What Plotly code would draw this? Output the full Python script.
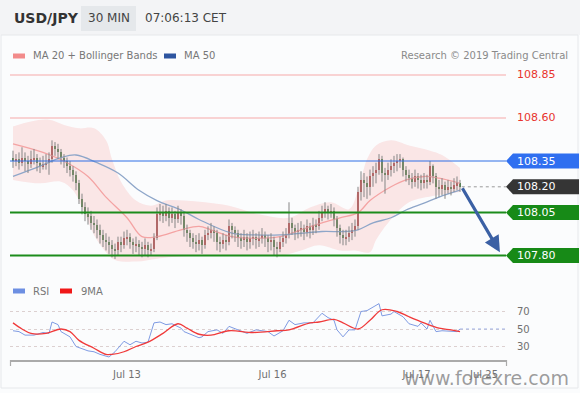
import plotly.graph_objects as go

# ---------------- DATA ----------------
bar_index = list(range(150))
opens = [108.37,108.35,108.36,108.34,108.37,108.35,108.33,108.36,108.37,108.34,
         108.32,108.33,108.34,108.36,108.44,108.42,108.40,108.37,108.35,108.32,
         108.30,108.27,108.22,108.13,108.08,108.04,108.03,107.99,107.98,107.95,
         107.92,107.89,107.88,107.86,107.84,107.83,107.88,107.86,107.90,107.91,
         107.88,107.86,107.87,107.85,107.84,107.86,107.83,107.84,107.90,108.04,
         108.05,108.03,108.06,108.02,108.04,108.01,108.05,108.03,107.95,107.93,
         107.90,107.88,107.87,107.89,107.86,107.92,107.93,107.95,107.93,107.88,
         107.87,107.89,107.88,107.97,107.95,107.93,107.90,107.89,107.91,107.88,
         107.90,107.91,107.89,107.90,107.92,107.90,107.88,107.89,107.85,107.84,
         107.88,107.90,107.92,107.99,107.96,107.94,107.95,107.96,107.94,107.97,
         107.95,107.98,107.97,108.02,108.05,108.07,108.05,108.06,108.01,107.96,
         107.92,107.90,107.91,107.93,107.95,107.97,108.17,108.24,108.22,108.20,
         108.26,108.28,108.30,108.36,108.28,108.27,108.30,108.32,108.34,108.35,
         108.36,108.30,108.27,108.25,108.23,108.26,108.24,108.22,108.24,108.23,
         108.32,108.26,108.20,108.19,108.21,108.18,108.20,108.19,108.21,108.22]
closes = [108.35,108.36,108.34,108.37,108.35,108.33,108.36,108.37,108.34,108.32,
          108.33,108.34,108.36,108.44,108.42,108.40,108.37,108.35,108.32,108.30,
          108.27,108.22,108.13,108.08,108.04,108.03,107.99,107.98,107.95,107.92,
          107.89,107.88,107.86,107.84,107.83,107.88,107.86,107.90,107.91,107.88,
          107.86,107.87,107.85,107.84,107.86,107.83,107.84,107.90,108.04,108.05,
          108.03,108.06,108.02,108.04,108.01,108.05,108.03,107.95,107.93,107.90,
          107.88,107.87,107.89,107.86,107.92,107.93,107.95,107.93,107.88,107.87,
          107.89,107.88,107.97,107.95,107.93,107.90,107.89,107.91,107.88,107.90,
          107.91,107.89,107.90,107.92,107.90,107.88,107.89,107.85,107.84,107.88,
          107.90,107.92,107.99,107.96,107.94,107.95,107.96,107.94,107.97,107.95,
          107.98,107.97,108.02,108.05,108.07,108.05,108.06,108.01,107.96,107.92,
          107.90,107.91,107.93,107.95,107.97,108.17,108.24,108.22,108.20,108.26,
          108.28,108.30,108.36,108.28,108.27,108.30,108.32,108.34,108.35,108.36,
          108.30,108.27,108.25,108.23,108.26,108.24,108.22,108.24,108.23,108.32,
          108.26,108.20,108.19,108.21,108.18,108.20,108.19,108.21,108.22,108.20]
highs = [108.41,108.39,108.40,108.43,108.40,108.38,108.41,108.42,108.39,108.37,
         108.38,108.39,108.40,108.47,108.46,108.45,108.42,108.39,108.37,108.35,
         108.32,108.29,108.24,108.16,108.11,108.08,108.06,108.03,108.01,107.98,
         107.95,107.93,107.91,107.89,107.87,107.91,107.91,107.94,107.95,107.93,
         107.90,107.91,107.89,107.88,107.90,107.88,107.87,107.93,108.08,108.10,
         108.09,108.10,108.08,108.08,108.06,108.09,108.07,108.05,107.98,107.95,
         107.93,107.92,107.93,107.91,107.95,107.97,107.99,107.97,107.95,107.91,
         107.93,107.92,108.01,107.99,107.97,107.95,107.93,107.95,107.93,107.94,
         107.95,107.93,107.94,107.96,107.94,107.92,107.93,107.91,107.88,107.91,
         107.94,107.96,108.11,108.02,107.98,107.99,108.00,107.98,108.01,107.99,
         108.02,108.01,108.06,108.09,108.11,108.09,108.10,108.08,108.03,107.98,
         107.95,107.95,107.97,107.99,108.01,108.20,108.29,108.28,108.26,108.30,
         108.32,108.34,108.39,108.38,108.31,108.34,108.36,108.38,108.39,108.39,
         108.37,108.32,108.30,108.28,108.30,108.28,108.27,108.28,108.27,108.35,
         108.33,108.28,108.24,108.25,108.23,108.24,108.23,108.25,108.26,108.24]
lows = [108.31,108.32,108.30,108.32,108.29,108.28,108.31,108.33,108.29,108.28,
        108.30,108.30,108.27,108.34,108.38,108.36,108.33,108.31,108.28,108.26,
        108.23,108.18,108.10,108.04,108.00,107.98,107.95,107.93,107.90,107.87,
        107.85,107.83,107.81,107.79,107.78,107.80,107.82,107.84,107.86,107.84,
        107.81,107.82,107.80,107.79,107.80,107.79,107.80,107.82,107.89,108.00,
        107.99,108.00,107.97,107.99,107.96,107.99,107.98,107.91,107.88,107.85,
        107.84,107.82,107.83,107.81,107.84,107.89,107.90,107.88,107.83,107.82,
        107.84,107.83,107.86,107.90,107.88,107.85,107.84,107.85,107.83,107.84,
        107.86,107.84,107.85,107.87,107.85,107.82,107.83,107.80,107.79,107.82,
        107.85,107.87,107.90,107.92,107.89,107.90,107.91,107.89,107.91,107.90,
        107.92,107.93,107.95,108.00,108.02,108.01,108.02,107.97,107.91,107.87,
        107.86,107.86,107.88,107.89,107.91,107.95,108.12,108.14,108.13,108.15,
        108.20,108.22,108.27,108.23,108.16,108.24,108.26,108.28,108.29,108.31,
        108.26,108.23,108.21,108.19,108.20,108.19,108.18,108.19,108.19,108.21,
        108.22,108.13,108.14,108.15,108.13,108.16,108.15,108.17,108.18,108.17]

ma20_idx = [0,10,18,25,31,38,43,48,56,62,66,73,81,89,96,103,109,115,119,126,131,137,142,149]
ma20_val = [108.45,108.40,108.34,108.26,108.14,108.02,107.91,107.91,107.95,107.97,107.95,107.91,
            107.90,107.91,107.95,107.99,108.02,108.05,108.12,108.20,108.24,108.26,108.25,108.22]
ma50_idx = [0,9,16,21,28,35,42,48,56,62,73,81,89,96,103,111,115,120,126,131,137,142,149]
ma50_val = [108.26,108.32,108.37,108.385,108.34,108.28,108.18,108.12,108.065,108.01,107.93,107.92,
            107.92,107.93,107.94,107.94,107.95,107.99,108.02,108.065,108.105,108.14,108.18]
bb_up_idx = [0,6,12,17,22,27,31,33,36,41,46,51,57,64,72,82,92,99,106,112,115,118,121,126,132,139,143,149]
bb_up_val = [108.55,108.58,108.59,108.56,108.54,108.54,108.47,108.36,108.23,108.12,108.09,108.12,
             108.12,108.11,108.09,108.04,108.02,108.08,108.11,108.07,108.18,108.36,108.44,108.47,
             108.44,108.41,108.385,108.31]
bb_lo_idx = [0,9,16,20,24,27,31,34,41,49,62,79,89,96,102,109,114,119,121,125,132,141,149]
bb_lo_val = [108.24,108.22,108.23,108.18,108.04,107.92,107.82,107.775,107.765,107.785,107.80,107.80,
             107.80,107.83,107.86,107.83,107.83,107.82,107.89,107.99,108.11,108.15,108.17]

rsi_idx = [0,2,4,7,10,12,13,15,16,19,21,25,27,29,32,34,37,39,41,43,45,47,49,51,53,56,57,60,62,63,65,
           68,70,72,75,78,81,85,87,90,92,94,97,100,103,105,107,108,110,112,114,116,118,122,123,126,127,
           130,132,135,136,138,139,141,143,146,148,149]
rsi_val = [48,47,43,43,46,45,58,55,47,41,30,25,24,21,18,24,36,32,36,34,35,57,58,55,56,51,47,43,40,41,47,
           49,45,53,49,45,49,47,42,48,60,55,57,57,68,63,60,49,41,49,49,70,71,79,65,67,70,
           64,56,53,57,50,60,47,48,47,47,50]
rsi_ma_idx = [0,3,6,11,16,19,22,27,31,33,37,41,45,50,55,58,62,66,72,80,88,92,99,102,107,110,115,
              119,123,128,132,137,142,146,149]
rsi_ma_val = [57,50,45,45,50,47,37,28,21,21,24,30,35,45,56,51,44,43,48,46,48,49,57,58,61,57,50,
              60,72,70,64,57,51,49,47]

key_levels = [108.85, 108.60, 108.35, 108.20, 108.05, 107.80]
level_labels = ["108.85", "108.60", "108.35", "108.20", "108.05", "107.80"]
rsi_levels = [70, 50, 30]
date_ticks = [38, 86.5, 134.5, 157]
date_labels = ["Jul 13", "Jul 16", "Jul 17", "Jul 25"]
forecast_from = (149.5, 108.20)
forecast_to = (162.3, 107.82)

# ---------------- LAYOUT HELPERS ----------------
W, H = 580, 393
FONT = "DejaVu Sans"
def fx(p):
    return p / W
def fy(p):
    return 1 - p / H

fig = go.Figure()

# Bollinger band fill
fig.add_trace(go.Scatter(x=bb_up_idx, y=bb_up_val, mode="lines", line=dict(width=0, shape="spline", color="rgba(0,0,0,0)"),
                         hoverinfo="skip", xaxis="x", yaxis="y"))
fig.add_trace(go.Scatter(x=bb_lo_idx, y=bb_lo_val, mode="lines", line=dict(width=0, shape="spline", color="rgba(0,0,0,0)"),
                         fill="tonexty", fillcolor="rgba(247,170,170,0.27)", hoverinfo="skip", xaxis="x", yaxis="y"))
# MA lines
fig.add_trace(go.Scatter(x=ma20_idx, y=ma20_val, mode="lines", line=dict(width=1.3, color="#f4a3a3", shape="spline"),
                         xaxis="x", yaxis="y"))
fig.add_trace(go.Scatter(x=ma50_idx, y=ma50_val, mode="lines", line=dict(width=1.3, color="#8ea6c9", shape="spline"),
                         xaxis="x", yaxis="y"))

# wicks
wx, wy = [], []
for i, hi, lo in zip(bar_index, highs, lows):
    wx += [i, i, None]
    wy += [lo, hi, None]
fig.add_trace(go.Scatter(x=wx, y=wy, mode="lines", line=dict(width=1, color="#858585"), hoverinfo="skip",
                         xaxis="x", yaxis="y"))
# bodies
base = [min(o, c) for o, c in zip(opens, closes)]
hgt = [abs(c - o) for o, c in zip(opens, closes)]
cols = ["#d42a2a" if c > o else "#2f7d2a" for o, c in zip(opens, closes)]
fig.add_trace(go.Bar(x=bar_index, y=hgt, base=base, width=0.7, marker=dict(color=cols, line=dict(width=0)),
                     xaxis="x", yaxis="y"))

# RSI
fig.add_trace(go.Scatter(x=rsi_idx, y=rsi_val, mode="lines", line=dict(width=1, color="#7f9be3"),
                         xaxis="x2", yaxis="y2"))
fig.add_trace(go.Scatter(x=rsi_ma_idx, y=rsi_ma_val, mode="lines", line=dict(width=1.3, color="#f03a3a", shape="spline"),
                         xaxis="x2", yaxis="y2"))
fig.add_trace(go.Scatter(x=[rsi_idx[-1], 164.3], y=[rsi_val[-1], rsi_val[-1]], mode="lines",
                         line=dict(width=1, color="#9fb3e8", dash="dot"), xaxis="x2", yaxis="y2"))

shapes = []
annotations = []
# header band
shapes.append(dict(type="rect", xref="paper", yref="paper", x0=0, x1=1, y0=fy(35), y1=1,
                   fillcolor="#f3f4f6", line=dict(width=0), layer="below"))
shapes.append(dict(type="rect", xref="paper", yref="paper", x0=fx(81), x1=fx(136), y0=fy(31), y1=fy(6),
                   fillcolor="#e5e8eb", line=dict(width=0), layer="below"))
# card border
shapes.append(dict(type="rect", xref="paper", yref="paper", x0=fx(1), x1=fx(578), y0=fy(388), y1=fy(35),
                   fillcolor="rgba(0,0,0,0)", line=dict(width=1, color="#e6e8eb"), layer="below"))

# key level lines
level_style = {
    108.85: dict(color="#f6a9a9", width=1),
    108.60: dict(color="#f6a9a9", width=1),
    108.35: dict(color="#2f6fe6", width=1),
    108.05: dict(color="#1c8c1c", width=2),
    107.80: dict(color="#1c8c1c", width=2),
}
for lv in key_levels:
    if lv in level_style:
        shapes.append(dict(type="line", xref="paper", yref="y", x0=fx(10), x1=fx(506), y0=lv, y1=lv,
                           line=level_style[lv]))
# current price dotted line
shapes.append(dict(type="line", xref="x", yref="y", x0=bar_index[-1] + 0.6, x1=164.3, y0=closes[-1], y1=closes[-1],
                   line=dict(color="#9a9a9a", width=1, dash="dot")))

# tags
half = 7.5 / 172
tag_colors = {108.35: "#2f6ff0", 108.20: "#353535", 108.05: "#178a17", 107.80: "#178a17"}
for lv, lab in zip(key_levels, level_labels):
    if lv in tag_colors:
        path = (f"M {fx(506)},{lv} L {fx(513)},{lv + half} L {fx(579)},{lv + half} "
                f"L {fx(579)},{lv - half} L {fx(513)},{lv - half} Z")
        shapes.append(dict(type="path", xref="paper", yref="y", path=path, fillcolor=tag_colors[lv],
                           line=dict(width=0)))
        annotations.append(dict(xref="paper", yref="y", x=fx(536), y=lv, text=lab, showarrow=False,
                                xanchor="center", yanchor="middle", font=dict(family=FONT, size=11, color="white")))
    else:
        annotations.append(dict(xref="paper", yref="y", x=fx(536), y=lv, text=lab, showarrow=False,
                                xanchor="center", yanchor="middle", font=dict(family=FONT, size=11, color="#e8342e")))

# forecast arrow
annotations.append(dict(xref="x", yref="y", x=forecast_to[0], y=forecast_to[1], axref="x", ayref="y",
                        ax=forecast_from[0], ay=forecast_from[1], showarrow=True, arrowhead=2, arrowsize=1,
                        arrowwidth=3.2, arrowcolor="#3b60a4", text=""))

# header texts
annotations += [
    dict(xref="paper", yref="paper", x=fx(12), y=fy(18), text="<b>USD/JPY</b>", showarrow=False,
         xanchor="left", yanchor="middle", font=dict(family=FONT, size=14, color="#333")),
    dict(xref="paper", yref="paper", x=fx(108.5), y=fy(18), text="30 MIN", showarrow=False,
         xanchor="center", yanchor="middle", font=dict(family=FONT, size=12, color="#444")),
    dict(xref="paper", yref="paper", x=fx(143), y=fy(18), text="07:06:13 CET", showarrow=False,
         xanchor="left", yanchor="middle", font=dict(family=FONT, size=12, color="#444")),
    dict(xref="paper", yref="paper", x=fx(31), y=fy(56), text="MA 20 + Bollinger Bands", showarrow=False,
         xanchor="left", yanchor="middle", font=dict(family=FONT, size=10, color="#777")),
    dict(xref="paper", yref="paper", x=fx(182), y=fy(56), text="MA 50", showarrow=False,
         xanchor="left", yanchor="middle", font=dict(family=FONT, size=10, color="#777")),
    dict(xref="paper", yref="paper", x=fx(570), y=fy(56), text="Research © 2019 Trading Central", showarrow=False,
         xanchor="right", yanchor="middle", font=dict(family=FONT, size=10, color="#8a8a8a")),
    dict(xref="paper", yref="paper", x=fx(31), y=fy(291), text="RSI", showarrow=False,
         xanchor="left", yanchor="middle", font=dict(family=FONT, size=10, color="#777")),
    dict(xref="paper", yref="paper", x=fx(79), y=fy(291), text="9MA", showarrow=False,
         xanchor="left", yanchor="middle", font=dict(family=FONT, size=10, color="#777")),
    dict(xref="paper", yref="paper", x=fx(486), y=fy(378), text="www.forexre.com", showarrow=False,
         xanchor="center", yanchor="middle", font=dict(family=FONT, size=19, color="rgba(125,125,125,0.75)")),
]
# legend swatches
for (x0, x1, y, col) in [(13, 25, 56, "#f28b8b"), (164, 176, 56, "#2d55a0"), (13, 25, 291, "#6d8fe2"), (60, 72, 291, "#f01818")]:
    shapes.append(dict(type="rect", xref="paper", yref="paper", x0=fx(x0), x1=fx(x1), y0=fy(y + 2.5), y1=fy(y - 2.5),
                       fillcolor=col, line=dict(width=0)))
# end ticks on rsi x-axis
for xp in (10.5, 506.5):
    shapes.append(dict(type="line", xref="paper", yref="paper", x0=fx(xp), x1=fx(xp), y0=fy(360), y1=fy(366),
                       line=dict(color="#aaaaaa", width=1.2)))

fig.update_layout(
    width=W, height=H, margin=dict(l=0, r=0, t=0, b=0),
    paper_bgcolor="#fbfcfd", plot_bgcolor="rgba(0,0,0,0)",
    showlegend=False, bargap=0,
    font=dict(family=FONT),
    xaxis=dict(domain=[fx(10), fx(506)], range=[-1, 164.33], visible=False, anchor="y"),
    yaxis=dict(domain=[fy(270), fy(65)], range=[108.85 - 195 / 172, 108.85 + 10 / 172], visible=False, anchor="x"),
    xaxis2=dict(domain=[fx(10), fx(506)], range=[-1, 164.33], anchor="y2", showline=True, linecolor="#aaaaaa",
                linewidth=1.5, showgrid=False, zeroline=False, tickvals=date_ticks, ticktext=date_labels,
                ticks="", tickfont=dict(family=FONT, size=10, color="#707070"), ticklabelstandoff=4),
    yaxis2=dict(domain=[fy(360), fy(300)], range=[50 - 31 / 0.875, 50 + 29 / 0.875], anchor="x2", side="right",
                tickvals=rsi_levels, ticks="", showgrid=True, gridcolor="#dcd0d0", griddash="dot", gridwidth=1,
                zeroline=False, showline=False, tickfont=dict(family=FONT, size=10, color="#707070"),
                ticklabelstandoff=10),
    shapes=shapes, annotations=annotations,
)

fig.write_html("out.html", config={"displayModeBar": False},
               post_script="document.body.style.margin='0';document.body.style.overflow='hidden';")
